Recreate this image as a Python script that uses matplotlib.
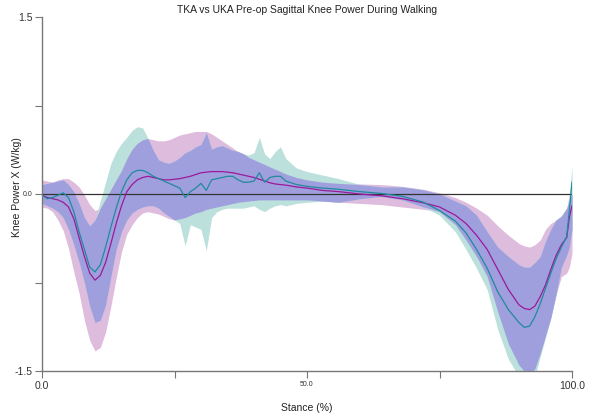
import matplotlib
matplotlib.use('Agg')
import matplotlib.pyplot as plt
import numpy as np

plt.rcParams['font.family'] = ['Liberation Sans', 'DejaVu Sans']

# stance (%) grid shared by all series
stance = [0, 1, 2, 3, 4, 5, 6, 7, 8, 9, 10, 11, 12, 13, 14, 15, 16, 17, 18, 19,
          20, 21, 22, 23, 24, 25, 26, 27, 28, 29, 30, 31, 32, 33, 34, 35, 36, 37, 38, 39,
          40, 41, 42, 43, 44, 45, 46, 48, 50, 53, 56, 60, 64, 68, 72, 75, 78, 80, 82, 84,
          86, 88, 90, 91, 92, 93, 94, 95, 96, 97, 98, 99, 99.5, 100]

# magenta group: mean, upper and lower band
pink_mean = [-0.01, -0.03, -0.04, -0.05, -0.07, -0.11, -0.21, -0.37, -0.53, -0.67,
             -0.73, -0.69, -0.58, -0.42, -0.25, -0.10, 0.02, 0.08, 0.12, 0.14,
             0.15, 0.14, 0.13, 0.12, 0.12, 0.125, 0.13, 0.14, 0.15, 0.165,
             0.18, 0.185, 0.19, 0.19, 0.19, 0.185, 0.18, 0.17, 0.16, 0.15,
             0.14, 0.125, 0.11, 0.095, 0.085, 0.08, 0.075, 0.06, 0.05, 0.03,
             0.02, 0.0, -0.015, -0.04, -0.075, -0.11, -0.18, -0.25, -0.35, -0.47,
             -0.64, -0.81, -0.94, -0.97, -0.98, -0.95, -0.87, -0.77, -0.64, -0.52,
             -0.43, -0.37, -0.2, -0.1]
pink_hi = [0.12, 0.11, 0.10, 0.12, 0.13, 0.13, 0.10, 0.06, -0.01, -0.09,
           -0.14, -0.12, -0.04, 0.04, 0.12, 0.20, 0.30, 0.38, 0.43, 0.46,
           0.47, 0.46, 0.45, 0.45, 0.46, 0.48, 0.50, 0.51, 0.52, 0.53,
           0.53, 0.53, 0.51, 0.48, 0.45, 0.42, 0.39, 0.36, 0.34, 0.31,
           0.29, 0.27, 0.25, 0.23, 0.21, 0.19, 0.17, 0.14, 0.12, 0.10,
           0.09, 0.085, 0.08, 0.065, 0.04, 0.01, -0.03, -0.07, -0.12, -0.18,
           -0.27, -0.35, -0.42, -0.44, -0.45, -0.43, -0.39, -0.30, -0.25, -0.22,
           -0.19, -0.12, -0.05, 0.0]
pink_lo = [-0.11, -0.12, -0.15, -0.22, -0.31, -0.46, -0.66, -0.84, -1.07, -1.24,
           -1.33, -1.30, -1.17, -0.95, -0.71, -0.49, -0.34, -0.26, -0.20, -0.16,
           -0.15, -0.16, -0.17, -0.19, -0.21, -0.22, -0.21, -0.20, -0.18, -0.16,
           -0.15, -0.13, -0.12, -0.11, -0.10, -0.09, -0.08, -0.07, -0.065, -0.06,
           -0.055, -0.05, -0.05, -0.05, -0.05, -0.05, -0.05, -0.05, -0.05, -0.06,
           -0.07, -0.08, -0.09, -0.11, -0.13, -0.15, -0.26, -0.39, -0.53, -0.70,
           -1.00, -1.27, -1.45, -1.50, -1.52, -1.48, -1.35, -1.20, -1.05, -0.85,
           -0.70, -0.67, -0.62, -0.50]

# teal group: mean, upper and lower band
teal_mean = [-0.01, -0.04, -0.03, -0.01, 0.01, -0.03, -0.15, -0.32, -0.47, -0.62,
             -0.66, -0.60, -0.45, -0.28, -0.12, 0.02, 0.12, 0.18, 0.20, 0.20,
             0.18, 0.15, 0.13, 0.11, 0.09, 0.07, 0.05, -0.03, 0.02, 0.05,
             0.09, 0.03, 0.12, 0.13, 0.14, 0.15, 0.15, 0.12, 0.10, 0.10,
             0.11, 0.18, 0.10, 0.14, 0.15, 0.15, 0.11, 0.08, 0.065, 0.05,
             0.04, 0.02, 0.005, -0.02, -0.07, -0.14, -0.23, -0.33, -0.47, -0.63,
             -0.83, -0.98, -1.09, -1.13, -1.12, -1.04, -0.93, -0.80, -0.67, -0.55,
             -0.45, -0.36, -0.14, 0.10]
teal_hi = [0.08, 0.09, 0.10, 0.11, 0.12, 0.08, 0.02, -0.08, -0.20, -0.27,
           -0.22, -0.06, 0.10, 0.26, 0.36, 0.43, 0.48, 0.54, 0.57, 0.56,
           0.47, 0.37, 0.29, 0.27, 0.26, 0.28, 0.31, 0.35, 0.37, 0.40,
           0.42, 0.52, 0.38, 0.40, 0.41, 0.39, 0.37, 0.36, 0.34, 0.33,
           0.35, 0.48, 0.34, 0.30, 0.36, 0.40, 0.30, 0.22, 0.19, 0.16,
           0.13, 0.08, 0.06, 0.06, 0.035, 0.0, -0.06, -0.10, -0.18, -0.32,
           -0.45, -0.53, -0.60, -0.62, -0.62, -0.58, -0.53, -0.40, -0.30, -0.22,
           -0.18, -0.12, 0.0, 0.23]
teal_lo = [-0.08, -0.10, -0.12, -0.15, -0.20, -0.30, -0.43, -0.58, -0.75, -0.95,
           -1.09, -1.07, -0.94, -0.70, -0.47, -0.32, -0.22, -0.16, -0.13, -0.11,
           -0.10, -0.10, -0.12, -0.16, -0.19, -0.22, -0.25, -0.44, -0.26, -0.28,
           -0.30, -0.48, -0.20, -0.15, -0.13, -0.12, -0.12, -0.12, -0.12, -0.11,
           -0.10, -0.13, -0.15, -0.12, -0.10, -0.09, -0.10, -0.08, -0.07, -0.06,
           -0.07, -0.04, -0.02, -0.05, -0.11, -0.18, -0.32, -0.47, -0.63, -0.81,
           -1.15, -1.40, -1.55, -1.60, -1.60, -1.55, -1.38, -1.22, -1.05, -0.85,
           -0.62, -0.52, -0.45, -0.30]

title = 'TKA vs UKA Pre-op Sagittal Knee Power During Walking'

x = np.array(stance)
ph, pl = np.array(pink_hi), np.array(pink_lo)
th, tl = np.array(teal_hi), np.array(teal_lo)
ov_hi = np.minimum(ph, th)
ov_lo = np.maximum(pl, tl)

fig = plt.figure(figsize=(5.97, 4.17), dpi=100)
ax = fig.add_axes([42 / 597, 1 - 371 / 417, 530 / 597, 354 / 417])

ax.fill_between(x, pl, ph, color='#ddbcdd', lw=0)
ax.fill_between(x, tl, th, color='#bce0dc', lw=0)
ax.fill_between(x, ov_lo, ov_hi, where=ov_hi > ov_lo, interpolate=True,
                color='#a09fde', lw=0)

ax.axhline(0, color='#333333', lw=0.9)
ax.plot(x, pink_mean, color='#9a1a9a', lw=0.9)
ax.plot(x, teal_mean, color='#1f8a9c', lw=0.9)

ax.set_xlim(0, 100)
ax.set_ylim(-1.5, 1.5)
for s in ['top', 'right']:
    ax.spines[s].set_visible(False)
for s in ['left', 'bottom']:
    ax.spines[s].set_color('#777777')
    ax.spines[s].set_linewidth(1)

ax.set_xticks([0, 25, 50, 75, 100])
ax.set_xticklabels(['0.0', '', '50.0', '', '100.0'])
ax.set_yticks([-1.5, -0.75, 0, 0.75, 1.5])
ax.set_yticklabels(['-1.5', '', '0.0', '', '1.5'])
ax.tick_params(direction='out', length=5, color='#777777', labelsize=7.5,
               labelcolor='#333333', pad=2)
ax.get_xticklabels()[2].set_fontsize(5)
ax.get_yticklabels()[2].set_fontsize(5)

fig.text(307 / 597, 1 - 10 / 417, title, ha='center', va='center', fontsize=7.5,
         color='#222222')
fig.text(307 / 597, 1 - 408 / 417, 'Stance (%)', ha='center', va='center',
         fontsize=7.5, color='#222222')
fig.text(17 / 597, 1 - 187 / 417, 'Knee Power X (W/kg)', ha='center', va='center',
         rotation=90, fontsize=7.5, color='#222222')

fig.savefig('out.png', dpi=100)
